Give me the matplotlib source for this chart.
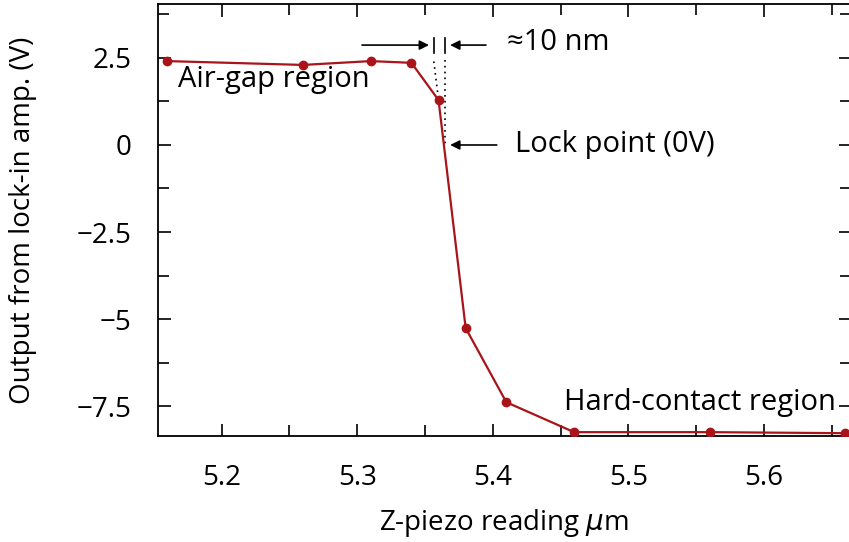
import matplotlib
matplotlib.use('Agg')
import matplotlib.pyplot as plt
from matplotlib.ticker import MultipleLocator, FuncFormatter

plt.rcParams['font.family'] = ['Open Sans', 'DejaVu Sans']
plt.rcParams['mathtext.fontset'] = 'dejavusans'

# z-piezo position (um) and lock-in output (V)
z_um = [5.16, 5.26, 5.31, 5.34, 5.36, 5.38, 5.41, 5.46, 5.56, 5.66]
v_out = [2.41, 2.30, 2.41, 2.36, 1.29, -5.26, -7.39, -8.25, -8.25, -8.28]

lock_z = 5.365
gap_left = 5.3565

fig = plt.figure(figsize=(8.49, 5.42), dpi=100)
ax = fig.add_axes([0.186, 0.1956, 0.816, 0.797])

red = '#a8141a'
ax.plot(z_um, v_out, color=red, lw=1.6, marker='o', ms=6, zorder=3)

ax.set_xlim(5.153, 5.664)
ax.set_ylim(-8.36, 4.05)

ax.xaxis.set_major_locator(MultipleLocator(0.1))
ax.xaxis.set_minor_locator(MultipleLocator(0.05))
ax.yaxis.set_major_locator(MultipleLocator(2.5))
ax.yaxis.set_minor_locator(MultipleLocator(1.25))
ax.tick_params(which='both', direction='in', top=True, right=True,
               width=1.2, labelsize=20)
ax.tick_params(axis='x', pad=20)
ax.tick_params(axis='y', pad=19)
ax.tick_params(which='major', length=9)
ax.tick_params(which='minor', length=8)
ax.xaxis.set_major_formatter(FuncFormatter(lambda v, p: f'{v:.1f}'))
ax.yaxis.set_major_formatter(FuncFormatter(
    lambda v, p: '0' if abs(v) < 1e-9 else f'{v:g}'.replace('-', '\u2212')))
for s in ax.spines.values():
    s.set_linewidth(1.3)

ax.set_xlabel(r'Z-piezo reading $\mu$m', fontsize=20)
ax.set_ylabel('Output from lock-in amp. (V)', fontsize=20)
ax.xaxis.set_label_coords(0.5, -0.165)
ax.yaxis.set_label_coords(-0.174, 0.5)

# ~10 nm gap marker
ax.plot([gap_left, gap_left], [2.64, 3.07], color='black', lw=1.2)
ax.plot([lock_z, lock_z], [2.64, 3.07], color='black', lw=1.2)
ax.annotate('', xy=(gap_left - 0.0015, 2.87), xytext=(5.3015, 2.87),
            arrowprops=dict(arrowstyle='-|>', color='black', lw=1.2, mutation_scale=14))
ax.annotate('', xy=(lock_z + 0.0015, 2.87), xytext=(5.397, 2.87),
            arrowprops=dict(arrowstyle='-|>', color='black', lw=1.2, mutation_scale=14))
ax.text(5.4105, 2.93, '\u224810 nm', fontsize=21, va='center', ha='left')

# dotted guides down to the curve
ax.plot([gap_left, 5.3595], [2.40, 1.45], color='black', lw=1.2, ls=(0, (1, 2.5)))
ax.plot([lock_z, lock_z], [2.45, 0.0], color='black', lw=1.2, ls=(0, (1, 2.5)))

# lock point
ax.annotate('', xy=(lock_z + 0.0015, 0.0), xytext=(5.405, 0.0),
            arrowprops=dict(arrowstyle='-|>', color='black', lw=1.2, mutation_scale=14))
ax.text(5.4165, 0.0, 'Lock point (0V)', fontsize=21, va='center', ha='left')

ax.text(5.1675, 1.87, 'Air-gap region', fontsize=21, va='center', ha='left')
ax.text(5.4525, -7.41, 'Hard-contact region', fontsize=21, va='center', ha='left')

fig.savefig('out.png', dpi=100)
